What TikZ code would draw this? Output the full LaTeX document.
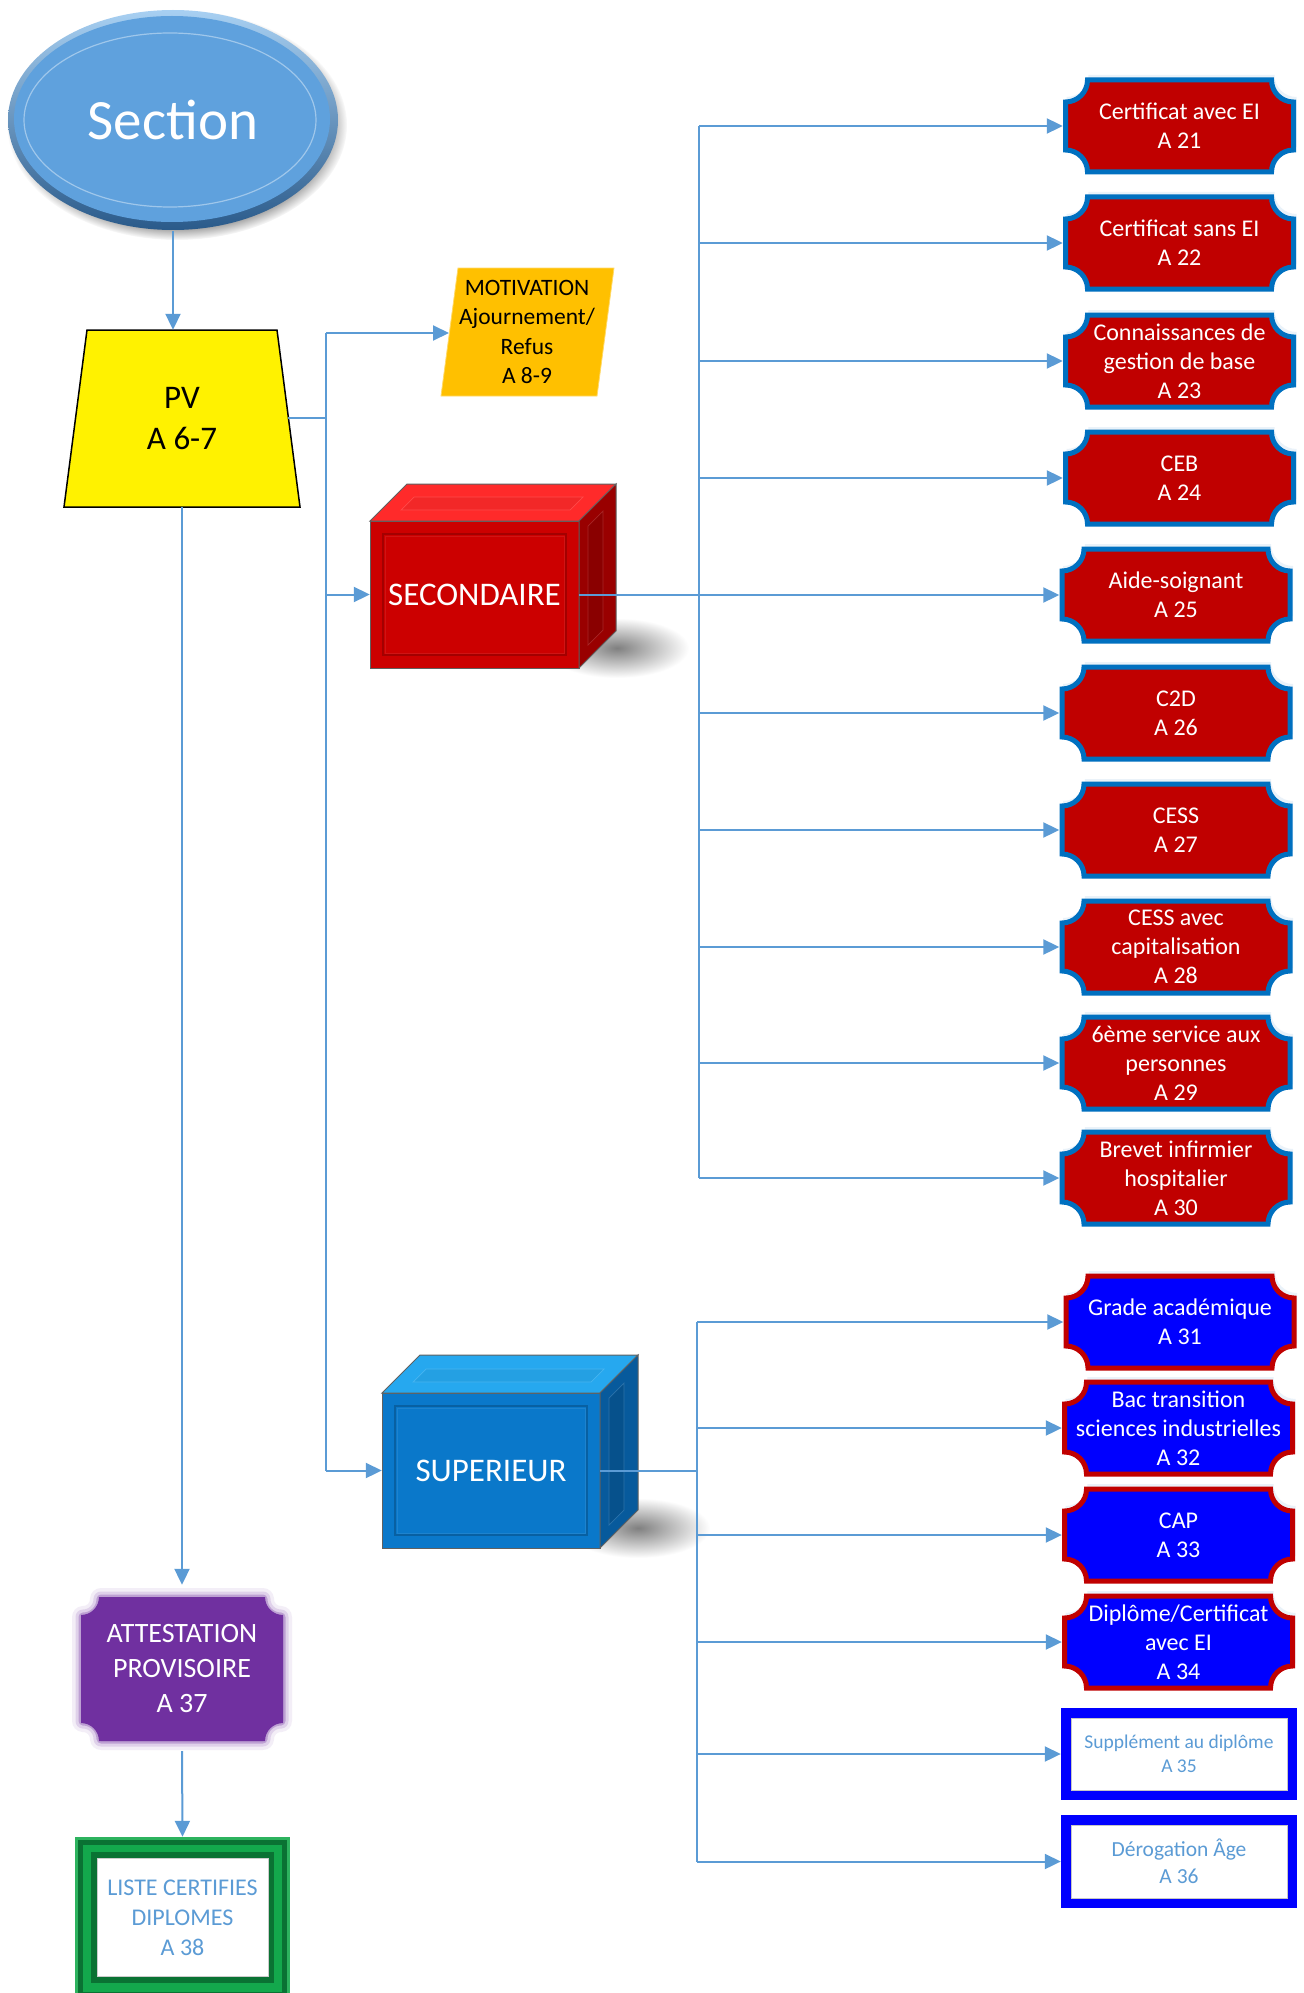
\documentclass[tikz,border=0pt]{standalone}
\usepackage{fontspec}
\setmainfont{Carlito}
\usetikzlibrary{arrows.meta,fadings}

\definecolor{lineblue}{HTML}{5B9BD5}
\definecolor{redfill}{HTML}{C00000}
\definecolor{officeblue}{HTML}{0070C0}
\definecolor{pureblue}{HTML}{0000FF}
\definecolor{secF}{HTML}{CC0000}
\definecolor{secT}{HTML}{FF2A2A}
\definecolor{secS}{HTML}{990000}
\definecolor{supF}{HTML}{0A78CA}
\definecolor{supT}{HTML}{26A8EF}
\definecolor{supS}{HTML}{075A9C}
\definecolor{attp}{HTML}{7030A0}
\definecolor{motivc}{HTML}{FFC000}
\definecolor{ellc}{HTML}{5FA1DD}
\definecolor{ellTop}{HTML}{A8D0F2}
\definecolor{ellBot}{HTML}{2A5A8A}
\definecolor{fgA}{HTML}{2DB35E}
\definecolor{fgB}{HTML}{0A7233}
\definecolor{fgC}{HTML}{13A84C}

\tikzset{
  conn/.style={draw=lineblue, line width=2pt},
  arr/.style={conn, -{Triangle[length=16pt,width=15pt]}},
  plqtext/.style={text=white, align=center, font=\fontsize{24}{29}\selectfont,
    inner sep=0pt, minimum width=233pt, minimum height=97pt},
  cubetext/.style={text=white, align=center, font=\fontsize{33}{40}\selectfont, inner sep=0pt},
}

% plaque path: cx, cy (px, downwards), w, h, r
\newcommand\plqpath[5]{(#1-#3/2,-#2+#4/2-#5) arc[start angle=-90,end angle=0,radius=#5pt]
  -- (#1+#3/2-#5,-#2+#4/2) arc[start angle=180,end angle=270,radius=#5pt]
  -- (#1+#3/2,-#2-#4/2+#5) arc[start angle=90,end angle=180,radius=#5pt]
  -- (#1-#3/2+#5,-#2-#4/2) arc[start angle=0,end angle=90,radius=#5pt] -- cycle}

% plaque: name, cx, cy, fill, border, text
\newcommand\plaque[6]{%
  \fill[lineblue!25, opacity=.5] \plqpath{#2+2}{#3+4}{230}{94}{22};
  \filldraw[fill=#4, draw=#5, line width=5pt] \plqpath{#2}{#3}{228}{92}{22};
  \node[plqtext] (#1) at (#2,-#3) {#6};
}

% cube: name, x1, y1, x2, y2, depth, colour prefix, text
\newcommand\cube[8]{%
  \shade[inner color=black!50, outer color=white]
    (#4+38,-#5+20) ellipse [x radius=72pt, y radius=30pt];
  \filldraw[fill=#7F, draw=gray!75!black, line width=1pt] (#2,-#3) rectangle (#4,-#5);
  \draw[#7F!80!black, line width=1.2pt] (#2+13,-#3-13) rectangle (#4-13,-#5+13);
  \draw[#7F!92!white, line width=.7pt] (#2+15,-#3-15) rectangle (#4-15,-#5+15);
  \filldraw[fill=#7T, draw=gray!75!black, line width=1pt]
    (#2,-#3) -- (#2+#6,-#3+#6) -- (#4+#6,-#3+#6) -- (#4,-#3) -- cycle;
  \filldraw[fill=#7T!95!black, draw=#7T!85!white, line width=.7pt]
    (#2+31,-#3+11) -- (#2+44,-#3+24) -- (#4+4,-#3+24) -- (#4-9,-#3+11) -- cycle;
  \filldraw[fill=#7S, draw=gray!75!black, line width=1pt]
    (#4,-#3) -- (#4+#6,-#3+#6) -- (#4+#6,-#5+#6) -- (#4,-#5) -- cycle;
  \filldraw[fill=#7S!90!black, draw=#7S!85!white, line width=.7pt]
    (#4+9,-#3-5) -- (#4+24,-#3+10) -- (#4+24,-#5+38) -- (#4+9,-#5+23) -- cycle;
  \node[cubetext, minimum width={(#4-#2)*1pt}, minimum height={(#5-#3)*1pt}]
    (#1) at ({(#2+#4)/2},{-(#3+#5)/2}) {#8};
}

\begin{document}
\begin{tikzpicture}[x=1pt,y=1pt]
\useasboundingbox (0,0) rectangle (1303,-1993);
\fill[white] (0,0) rectangle (1303,-1993);

% ---------- Section ellipse ----------
\fill[black, opacity=.35, path fading=circle with fuzzy edge 10 percent]
  (177,-125) ellipse [x radius=170pt, y radius=115pt];
\shade[top color=ellTop, bottom color=ellBot] (173,-120) ellipse [x radius=165pt, y radius=110pt];
\fill[ellc] (172,-119) ellipse [x radius=158pt, y radius=103pt];
\draw[ellc!60!white, line width=1.2pt] (170,-120) ellipse [x radius=146pt, y radius=87pt];
\node[text=white, font=\fontsize{57}{68}\selectfont, inner sep=0pt,
  minimum width=330pt, minimum height=222pt] (section) at (173,-120) {Section};

% ---------- PV ----------
\filldraw[fill=yellow, draw=black, line width=1.5pt]
  (87,-330) -- (277,-330) -- (300,-507) -- (64,-507) -- cycle;
\node[align=center, font=\fontsize{33}{41}\selectfont, inner sep=0pt,
  minimum width=236pt, minimum height=177pt] (pv) at (182,-418.5) {PV\\A 6-7};

% ---------- MOTIVATION ----------
\filldraw[fill=motivc, draw=motivc!60!white, line width=.8pt]
  (458,-268) -- (614,-268) -- (597,-396) -- (441,-396) -- cycle;
\node[align=center, font=\fontsize{23.5}{29.5}\selectfont, inner sep=0pt]
  (motiv) at (527,-332) {MOTIVATION\\Ajournement/\\Refus\\A 8-9};

% ---------- Cubes ----------
\cube{sec}{370}{521}{579}{668}{37}{sec}{SECONDAIRE}
\cube{sup}{382}{1393}{600}{1548}{38}{sup}{SUPERIEUR}

% ---------- secondary plaques ----------
\plaque{r21}{1179.5}{126}{redfill}{officeblue}{Certificat avec EI\\A 21}
\plaque{r22}{1179.5}{243}{redfill}{officeblue}{Certificat sans EI\\A 22}
\plaque{r23}{1179.5}{361}{redfill}{officeblue}{Connaissances de\\gestion de base\\A 23}
\plaque{r24}{1179.5}{478}{redfill}{officeblue}{CEB\\A 24}
\plaque{r25}{1176}{595}{redfill}{officeblue}{Aide-soignant\\A 25}
\plaque{r26}{1176}{713}{redfill}{officeblue}{C2D\\A 26}
\plaque{r27}{1176}{830}{redfill}{officeblue}{CESS\\A 27}
\plaque{r28}{1176}{947}{redfill}{officeblue}{CESS avec\\capitalisation\\A 28}
\plaque{r29}{1176}{1063}{redfill}{officeblue}{6ème service aux\\personnes\\A 29}
\plaque{r30}{1176}{1178}{redfill}{officeblue}{Brevet infirmier\\hospitalier\\A 30}

% ---------- superior plaques ----------
\plaque{b31}{1180}{1322}{pureblue}{redfill}{Grade académique\\A 31}
\plaque{b32}{1178.5}{1428}{pureblue}{redfill}{Bac transition\\sciences industrielles\\A 32}
\plaque{b33}{1178.5}{1535}{pureblue}{redfill}{CAP\\A 33}
\plaque{b34}{1178.5}{1642}{pureblue}{redfill}{Diplôme/Certificat\\avec EI\\A 34}

\fill[white] (1066,-1713) rectangle (1292,-1795);
\draw[pureblue, line width=10pt] (1066,-1713) rectangle (1292,-1795);
\draw[gray!45, line width=.8pt] (1071,-1718) rectangle (1287,-1790);
\node[text=lineblue, align=center, font=\fontsize{19.5}{23.5}\selectfont, inner sep=0pt,
  minimum width=236pt, minimum height=92pt] (b35) at (1179,-1754) {Supplément au diplôme\\A 35};

\fill[white] (1066,-1820) rectangle (1292,-1903);
\draw[pureblue, line width=10pt] (1066,-1820) rectangle (1292,-1903);
\draw[gray!45, line width=.8pt] (1071,-1825) rectangle (1287,-1898);
\node[text=lineblue, align=center, font=\fontsize{21.5}{27}\selectfont, inner sep=0pt,
  minimum width=236pt, minimum height=93pt] (b36) at (1179,-1861.5) {Dérogation Âge\\A 36};

% ---------- ATTESTATION ----------
\foreach \lw/\op in {22/.08, 15/.15, 9/.3, 4/.5}
  \draw[attp, line width=\lw pt, opacity=\op, line join=round] \plqpath{182}{1669}{198}{140}{18};
\fill[attp] \plqpath{182}{1669}{202}{144}{18};
\node[text=white, align=center, font=\fontsize{28}{35}\selectfont, inner sep=0pt,
  minimum width=216pt, minimum height=166pt] (att) at (182,-1668) {ATTESTATION\\PROVISOIRE\\A 37};

% ---------- LISTE frame ----------
\fill[fgA] (75,-1837) rectangle (290,-2000);
\fill[fgB] (78,-1840) rectangle (287,-1997);
\fill[fgC] (83,-1845) rectangle (282,-1992);
\fill[fgB] (91,-1852) rectangle (274,-1983);
\fill[white] (97,-1858) rectangle (268,-1976);
\draw[gray!40, line width=.6pt] (97,-1858) rectangle (268,-1976);
\node[text=lineblue, align=center, font=\fontsize{24}{30}\selectfont, inner sep=0pt,
  minimum width=215pt, minimum height=162pt] (liste) at (182.5,-1918) {LISTE CERTIFIES\\DIPLOMES\\A 38};

% ---------- connectors ----------
\draw[arr] (section.south) -- (section.south |- pv.north);
\coordinate (pvr) at (288,-418);
\coordinate (t1) at (326,-333);
\coordinate (t2) at (326,-1470.5);
\coordinate (motl) at (449,-333);
\draw[conn] (pvr) -- (pvr -| t1);
\draw[conn] (t1) -- (t2);
\draw[arr] (t1) -- (motl);
\draw[arr] (t1 |- sec.west) -- (sec.west);
\draw[arr] (t2) -- (sup.west);

\coordinate (s1) at (699,-126);
\coordinate (s2) at (699,-1178);
\draw[conn] (s1) -- (s2);
\draw[conn] (sec.east) -- (sec.east -| s1);
\foreach \b in {r21,r22,r23,r24,r25,r26,r27,r28,r29,r30}
  \draw[arr] (s1 |- \b.west) -- (\b.west);

\coordinate (u1) at (697,-1322);
\coordinate (u2) at (697,-1861.5);
\draw[conn] (u1) -- (u2);
\draw[conn] (sup.east) -- (sup.east -| u1);
\foreach \b in {b31,b32,b33,b34,b35,b36}
  \draw[arr] (u1 |- \b.west) -- (\b.west);

\draw[arr] (pv.south) -- (att.north);
\draw[arr] (att.south) -- (liste.north);
\end{tikzpicture}
\end{document}
